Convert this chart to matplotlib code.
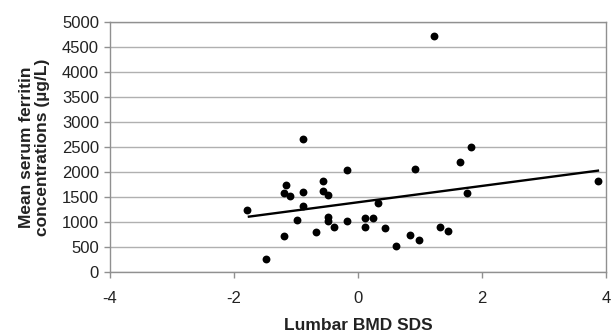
import matplotlib
matplotlib.use("Agg")
import matplotlib.pyplot as plt
import numpy as np

plt.rcParams['font.family'] = ['Liberation Sans', 'DejaVu Sans']

bmd_sds = [-1.79, -1.48, -1.20, -1.16, -1.19, -1.10, -0.99, -0.88, -0.88, -0.88,
           -0.68, -0.57, -0.57, -0.49, -0.49, -0.48, -0.38, -0.18, -0.18, 0.12,
           0.12, 0.24, 0.32, 0.43, 0.62, 0.84, 0.92, 0.99, 1.23, 1.33,
           1.45, 1.64, 1.75, 1.83, 3.87]
ferritin = [1233, 253, 713, 1740, 1573, 1520, 1040, 2653, 1607, 1320,
            793, 1827, 1627, 1547, 1093, 1027, 900, 2040, 1013, 1073,
            907, 1073, 1387, 873, 527, 740, 2060, 640, 4727, 900,
            820, 2193, 1573, 2493, 1820]
trend_x = [-1.76, 3.87]
trend_y = [1107, 2027]

x_ticks = [-4, -2, 0, 2, 4]
y_ticks = [0, 500, 1000, 1500, 2000, 2500, 3000, 3500, 4000, 4500, 5000]

fig = plt.figure(figsize=(6.16, 3.36), dpi=100)
ax = fig.add_axes([0.1786, 0.1905, 0.8052, 0.744])

ax.set_xlim(-4, 4)
ax.set_ylim(0, 5000)
ax.set_xticks(x_ticks)
ax.set_yticks(y_ticks)
ax.set_xticklabels([str(t) for t in x_ticks])
ax.set_yticklabels([str(t) for t in y_ticks])

ax.grid(axis='y', color='#b0b0b0', linewidth=1.0)
ax.set_axisbelow(True)

for s in ax.spines.values():
    s.set_color('#909090')
    s.set_linewidth(1.0)

ax.tick_params(axis='both', direction='out', length=4, width=1.0, color='#909090',
               labelsize=12, labelcolor='#222222')
ax.tick_params(axis='x', pad=10)
ax.tick_params(axis='y', pad=4)

ax.scatter(bmd_sds, ferritin, s=32, color='black', zorder=3, linewidths=0)
ax.plot(trend_x, trend_y, color='black', linewidth=1.7, zorder=2)

ax.set_xlabel('Lumbar BMD SDS', fontsize=12.5, fontweight='bold', color='#222222')
ax.xaxis.set_label_coords(0.5, -0.185)
ax.set_ylabel('Mean serum ferritin\nconcentrations (µg/L)', fontsize=12.5, fontweight='bold',
              color='#222222', linespacing=1.15)
ax.yaxis.set_label_coords(-0.12, 0.5)

fig.savefig('out.png', dpi=100)
